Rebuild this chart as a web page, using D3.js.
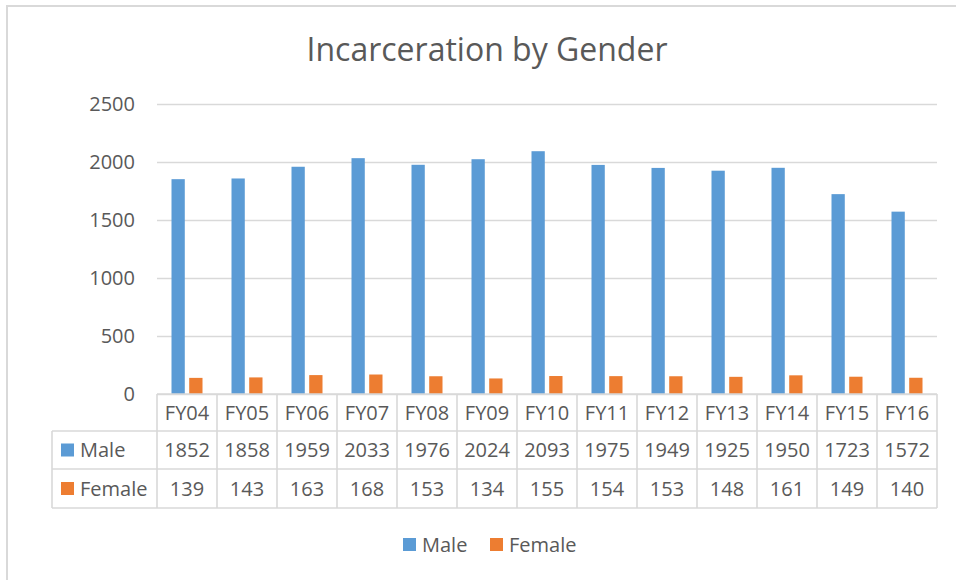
<!DOCTYPE html>
<html>
<head>
<meta charset="utf-8">
<script src="https://cdn.jsdelivr.net/npm/d3@7"></script>
<style>
  body { margin: 0; background: #fff; }
  text { font-family: "Open Sans", sans-serif; fill: #595959; }
  .grid line { stroke: #d9d9d9; stroke-width: 1.3; }
  .grid path { display: none; }
</style>
</head>
<body>
<div id="chart"></div>
<script>
// data
var years = ["FY04","FY05","FY06","FY07","FY08","FY09","FY10","FY11","FY12","FY13","FY14","FY15","FY16"];
var male = [1852,1858,1959,2033,1976,2024,2093,1975,1949,1925,1950,1723,1572];
var female = [139,143,163,168,153,134,155,154,153,148,161,149,140];
var seriesNames = ["Male","Female"];
var seriesColors = ["#5b9bd5","#ed7d31"];
var yTicks = [0,500,1000,1500,2000,2500];

var width = 956, height = 580;
var plotLeft = 157, plotRight = 937, plotTop = 104, plotBottom = 394;

var svg = d3.select("#chart").append("svg")
    .attr("width", width)
    .attr("height", height);

// outer chart border
svg.append("rect")
    .attr("x", 7).attr("y", 6)
    .attr("width", 960).attr("height", 600)
    .attr("fill", "none")
    .attr("stroke", "#d9d9d9")
    .attr("stroke-width", 2);

// title
svg.append("text")
    .attr("x", 487).attr("y", 61)
    .attr("text-anchor", "middle")
    .style("font-size", "32px")
    .text("Incarceration by Gender");

var x = d3.scaleBand()
    .domain(years)
    .range([plotLeft, plotRight]);

var xs = d3.scaleBand()
    .domain(seriesNames)
    .range([14.5, 45.5])
    .paddingInner(0.25);

var y = d3.scaleLinear()
    .domain([0, 2500])
    .range([plotBottom, plotTop]);

// gridlines + y labels
var yAxis = svg.append("g")
    .attr("class", "grid")
    .attr("transform", "translate(" + plotLeft + ",0)")
    .call(d3.axisLeft(y)
        .tickValues(yTicks)
        .tickFormat(d3.format("d"))
        .tickSize(-(plotRight - plotLeft))
        .tickPadding(22)
    );
yAxis.selectAll("text")
    .style("font-size", "20px")
    .attr("fill", "#595959");

// bars
var series = [male, female];
series.forEach(function(vals, si) {
    svg.append("g")
        .selectAll("rect")
        .data(vals)
        .enter()
        .append("rect")
        .attr("x", function(d, i) { return x(years[i]) + xs(seriesNames[si]); })
        .attr("y", function(d) { return y(d); })
        .attr("width", xs.bandwidth())
        .attr("height", function(d) { return y(0) - y(d); })
        .attr("fill", seriesColors[si]);
});

// data table
var rowTop = [394, 431, 469, 508];
var tableLeft = 52;
var lineColor = "#d9d9d9";
var table = svg.append("g");

// horizontal lines
table.append("line").attr("x1", plotLeft).attr("x2", plotRight).attr("y1", rowTop[0]).attr("y2", rowTop[0]);
[1, 2, 3].forEach(function(r) {
    table.append("line").attr("x1", tableLeft).attr("x2", plotRight).attr("y1", rowTop[r]).attr("y2", rowTop[r]);
});
// vertical lines
table.append("line").attr("x1", tableLeft).attr("x2", tableLeft).attr("y1", rowTop[1]).attr("y2", rowTop[3]);
years.forEach(function(c) {
    table.append("line").attr("x1", x(c)).attr("x2", x(c)).attr("y1", rowTop[0]).attr("y2", rowTop[3]);
});
table.append("line").attr("x1", plotRight).attr("x2", plotRight).attr("y1", rowTop[0]).attr("y2", rowTop[3]);
table.selectAll("line")
    .attr("stroke", lineColor)
    .attr("stroke-width", 1.6);

// category labels
table.selectAll(".cat")
    .data(years)
    .enter()
    .append("text")
    .attr("x", function(d) { return x(d) + x.bandwidth() / 2; })
    .attr("y", (rowTop[0] + rowTop[1]) / 2)
    .attr("dy", "0.36em")
    .attr("text-anchor", "middle")
    .style("font-size", "20px")
    .text(function(d) { return d; });

// value rows
series.forEach(function(vals, si) {
    var cy = (rowTop[si + 1] + rowTop[si + 2]) / 2;
    table.append("g")
        .selectAll("text")
        .data(vals)
        .enter()
        .append("text")
        .attr("x", function(d, i) { return x(years[i]) + x.bandwidth() / 2; })
        .attr("y", cy)
        .attr("dy", "0.36em")
        .attr("text-anchor", "middle")
        .style("font-size", "20px")
        .text(function(d) { return d; });

    table.append("rect")
        .attr("x", 61).attr("y", cy - 6.5)
        .attr("width", 13).attr("height", 13)
        .attr("fill", seriesColors[si]);
    table.append("text")
        .attr("x", 80).attr("y", cy)
        .attr("dy", "0.36em")
        .style("font-size", "20px")
        .text(seriesNames[si]);
});

// legend
var legendX = [403, 490];
var legend = svg.append("g");
seriesNames.forEach(function(name, i) {
    legend.append("rect")
        .attr("x", legendX[i]).attr("y", 538)
        .attr("width", 13).attr("height", 13)
        .attr("fill", seriesColors[i]);
    legend.append("text")
        .attr("x", legendX[i] + 19).attr("y", 544.5)
        .attr("dy", "0.36em")
        .style("font-size", "20px")
        .text(name);
});
</script>
</body>
</html>
